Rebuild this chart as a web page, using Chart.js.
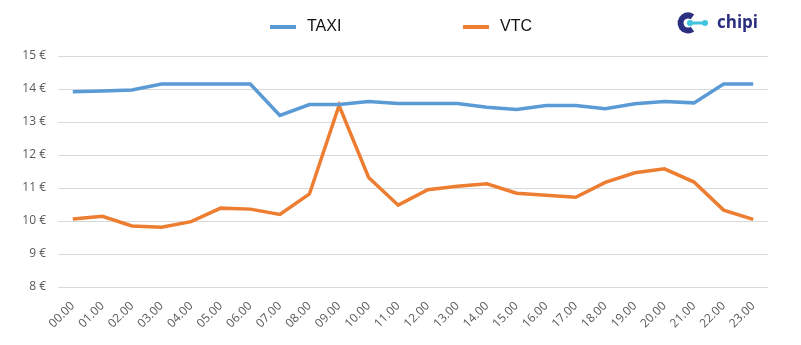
<!DOCTYPE html>
<html>
<head>
<meta charset="utf-8">
<script src="https://cdn.jsdelivr.net/npm/chart.js@4.4.1/dist/chart.umd.min.js"></script>
<style>
  html, body { margin: 0; padding: 0; background: #fff; }
  #wrap { width: 801px; height: 345px; position: relative; }
</style>
</head>
<body>
<div id="wrap"><canvas id="chart-prices"></canvas></div>
<script>
const HOURS = ['00.00', '01.00', '02.00', '03.00', '04.00', '05.00', '06.00', '07.00',
               '08.00', '09.00', '10.00', '11.00', '12.00', '13.00', '14.00', '15.00',
               '16.00', '17.00', '18.00', '19.00', '20.00', '21.00', '22.00', '23.00'];

const TAXI = [13.92, 13.94, 13.97, 14.15, 14.15, 14.15, 14.15, 13.20,
              13.53, 13.53, 13.62, 13.56, 13.56, 13.56, 13.45, 13.38,
              13.50, 13.50, 13.40, 13.55, 13.62, 13.58, 14.15, 14.15];

const VTC = [10.06, 10.14, 9.85, 9.81, 9.98, 10.39, 10.36, 10.20,
             10.82, 13.50, 11.32, 10.48, 10.95, 11.05, 11.13, 10.84,
             10.78, 10.72, 11.17, 11.46, 11.58, 11.18, 10.33, 10.05];

const Y_MIN = 8;
const Y_MAX = 15;

const COLORS = {
  TAXI: '#5b9bd5',
  VTC:  '#ed7d31'
};

const TICK_FONT = { family: "'Open Sans', 'Liberation Sans', sans-serif", size: 12 };

// legend drawn by hand so the two entries can sit far apart
const legendPlugin = {
  id: 'wideLegend',
  afterDraw(chart) {
    const ctx = chart.ctx;
    const slots = [270, 463];
    ctx.save();
    ctx.font = "16px 'Liberation Sans', Arial, sans-serif";
    ctx.textBaseline = 'middle';
    chart.data.datasets.forEach((ds, i) => {
      const x = slots[i];
      ctx.fillStyle = ds.borderColor;
      ctx.fillRect(x, 25, 26, 4);
      ctx.fillStyle = '#111';
      ctx.fillText(ds.label, x + 37, 27);
    });
    ctx.restore();
  }
};

// brand mark in the top right corner
const logoPlugin = {
  id: 'logo',
  afterDraw(chart) {
    const ctx = chart.ctx;
    const navy = '#2c2f80';
    const cyan = '#40c3dc';
    ctx.save();
    ctx.strokeStyle = navy;
    ctx.lineWidth = 6;
    ctx.beginPath();
    ctx.arc(688, 23, 7.5, Math.PI * 0.3, Math.PI * 1.7);
    ctx.stroke();
    ctx.fillStyle = cyan;
    ctx.beginPath();
    ctx.arc(690, 23, 3, 0, Math.PI * 2);
    ctx.fill();
    ctx.fillRect(690, 21.5, 14, 3);
    ctx.beginPath();
    ctx.arc(705, 23, 3, 0, Math.PI * 2);
    ctx.fill();
    ctx.fillStyle = navy;
    ctx.font = "bold 17px 'Open Sans', 'Liberation Sans', sans-serif";
    ctx.textBaseline = 'alphabetic';
    ctx.fillText('chipi', 717, 28);
    ctx.restore();
  }
};

function lineDataset(label, data) {
  return {
    label,
    data,
    borderColor:     COLORS[label],
    backgroundColor: COLORS[label],
    borderWidth:     3.5,
    pointRadius:     0,
    tension:         0,
    fill:            false
  };
}

const ctx = document.getElementById('chart-prices').getContext('2d');
new Chart(ctx, {
  type: 'line',
  data: {
    labels: HOURS,
    datasets: [lineDataset('TAXI', TAXI), lineDataset('VTC', VTC)]
  },
  options: {
    responsive: true,
    maintainAspectRatio: false,
    animation: false,
    layout: { padding: { top: 56, right: 33, bottom: 0, left: 0 } },
    plugins: {
      legend:  { display: false },
      tooltip: { enabled: false }
    },
    scales: {
      x: {
        offset: true,
        grid:   { display: false, drawTicks: false },
        border: { display: false },
        ticks:  {
          color: '#595959',
          font: TICK_FONT,
          autoSkip: false,
          minRotation: 45,
          maxRotation: 45,
          padding: 12
        },
        afterFit(scale) { scale.height = 58; }
      },
      y: {
        min: Y_MIN,
        max: Y_MAX,
        grid:   { color: '#d9d9d9', lineWidth: 1, drawTicks: false },
        border: { display: false },
        ticks:  {
          stepSize: 1,
          color: '#595959',
          font: TICK_FONT,
          padding: 12,
          callback: v => v + ' €'
        },
        afterFit(scale) { scale.width = 58; }
      }
    }
  },
  plugins: [legendPlugin, logoPlugin]
});
</script>
</body>
</html>
